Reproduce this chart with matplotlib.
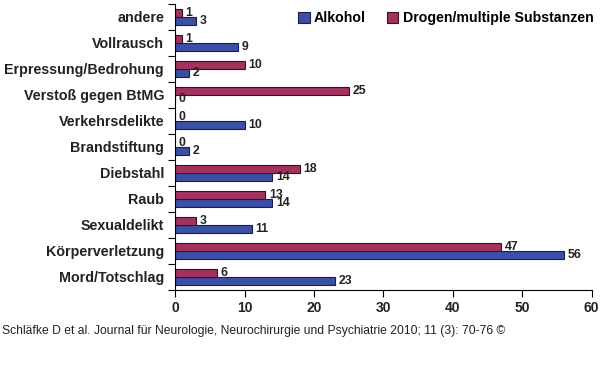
import matplotlib.pyplot as plt
import numpy as np

plt.rcParams['font.family'] = ['Liberation Sans', 'DejaVu Sans']

categories = ['Mord/Totschlag', 'Körperverletzung', 'Sexualdelikt', 'Raub', 'Diebstahl',
              'Brandstiftung', 'Verkehrsdelikte', 'Verstoß gegen BtMG',
              'Erpressung/Bedrohung', 'Vollrausch', 'andere']
alkohol = [23, 56, 11, 14, 14, 2, 10, 0, 2, 9, 3]
drogen = [6, 47, 3, 13, 18, 0, 0, 25, 10, 1, 1]
xticks = [0, 10, 20, 30, 40, 50, 60]

c_alk = '#3b4fa6'
c_dro = '#a3325f'

fig = plt.figure(figsize=(6, 3.81), dpi=100)
ax = fig.add_axes([0.292, 0.239, 0.694, 0.7505])

y = np.arange(len(categories))
h = 0.31
ax.barh(y - h / 2, alkohol, height=h, color=c_alk, edgecolor='#1a1f4a', linewidth=0.8, label='Alkohol')
ax.barh(y + h / 2, drogen, height=h, color=c_dro, edgecolor='#3a1020', linewidth=0.8,
        label='Drogen/multiple Substanzen')

for i in range(len(categories)):
    ax.text(alkohol[i] + 0.5, y[i] - h / 2, str(alkohol[i]), va='center', ha='left',
            fontsize=8.8, fontweight='bold', color='#222222')
    ax.text(drogen[i] + 0.5, y[i] + h / 2, str(drogen[i]), va='center', ha='left',
            fontsize=8.8, fontweight='bold', color='#222222')

ax.set_xlim(0, 60)
ax.set_ylim(-0.5, 10.5)
ax.set_xticks(xticks)
ax.set_xticklabels([str(t) for t in xticks], fontsize=10, fontweight='bold', color='#222222')
ax.set_yticks(y)
ax.set_yticklabels(categories, fontsize=10.3, fontweight='bold', color='#222222')
ax.tick_params(axis='y', which='major', length=0, pad=8)
ax.set_yticks(np.arange(-0.5, 11, 1), minor=True)
ax.tick_params(axis='y', which='minor', length=5, width=0.8)
ax.tick_params(axis='x', length=5, width=0.8, direction='out', pad=3)

for s in ['top', 'right']:
    ax.spines[s].set_visible(False)

ax.legend(loc='upper right', bbox_to_anchor=(1.035, 1.02), ncol=2, frameon=False,
          prop={'weight': 'bold', 'size': 10.2}, handlelength=0.8, handleheight=0.8,
          handletextpad=0.3, columnspacing=1.5)

fig.text(0.004, 0.131, 'Schläfke D et al. Journal für Neurologie, Neurochirurgie und Psychiatrie 2010; 11 (3): 70-76 ©',
         fontsize=8.7, color='#222222', ha='left', va='center')

fig.savefig('out.png', dpi=100)
